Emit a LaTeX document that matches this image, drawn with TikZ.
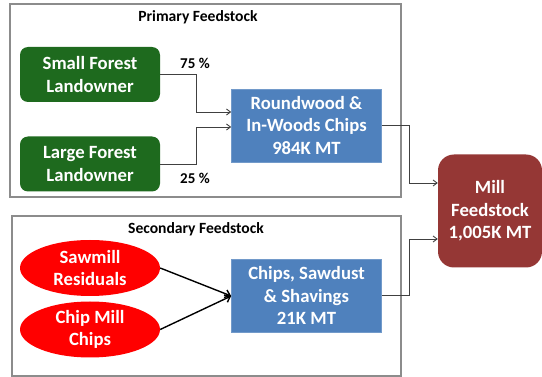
\documentclass[tikz,border=0pt]{standalone}
\usepackage{fontspec}
\setmainfont{Carlito}
\usetikzlibrary{arrows.meta,shapes.geometric,positioning}
\definecolor{fgreen}{HTML}{1E6A1E}
\definecolor{sblue}{HTML}{4F81BD}
\definecolor{mred}{HTML}{953735}
\definecolor{fgray}{HTML}{8C8C8C}
\definecolor{cgray}{HTML}{404040}
\tikzset{
  box/.style={inner sep=0pt, align=center, text=white, font=\fontsize{18.7}{22.5}\selectfont\bfseries},
  greenbox/.style={box, fill=fgreen, rounded corners=8pt, minimum width=140pt, minimum height=55pt},
  bluebox/.style={box, fill=sblue, draw=sblue!80!white, line width=0.6pt, minimum width=150pt, minimum height=73pt},
  millbox/.style={box, fill=mred, rounded corners=16pt, minimum width=104pt, minimum height=113pt},
  redell/.style={box, ellipse, fill=red, minimum width=140pt, minimum height=56pt},
  frame/.style={draw=fgray, line width=1.3pt},
  title/.style={font=\fontsize{15.6}{18}\selectfont\bfseries, inner sep=0pt},
  pct/.style={font=\fontsize{15}{18}\selectfont\bfseries, inner sep=0pt},
  conn/.style={draw=cgray, line width=0.9pt, -{Straight Barb[length=4pt,width=6pt]}},
  bconn/.style={draw=black, line width=1.4pt, -{Straight Barb[length=5pt,width=8pt]}}
}
\begin{document}
\begin{tikzpicture}[x=1pt,y=-1pt]
\useasboundingbox (0,0) rectangle (542,377);
% frames
\draw[frame] (10,4) rectangle (401,197);
\draw[frame] (12,216) rectangle (401,376);
\node[title] (t1) at (198,17) {Primary Feedstock};
\node[title] (t2) at (196,229) {Secondary Feedstock};
% nodes
\node[greenbox] (small) at (90,74.5) {Small Forest\\Landowner};
\node[greenbox] (large) at (90,164) {Large Forest\\Landowner};
\node[bluebox] (rw) at (306.5,125.5) {Roundwood \&\\In-Woods Chips\\984K MT};
\node[bluebox] (chips) at (306.5,295.5) {Chips, Sawdust\\\& Shavings\\21K MT};
\node[millbox] (mill) at (490,211) {Mill\\Feedstock\\1,005K MT};
\node[redell] (saw) at (90,268) {Sawmill\\Residuals};
\node[redell] (cmill) at (90,329.5) {Chip Mill\\Chips};
% labels
\node[pct] (p75) at (195,63.5) {75 \%};
\node[pct] (p25) at (195,178.5) {25 \%};
% connectors
\draw[conn] (small.east) -- ++(36,0) |- ([yshift=13.5pt]rw.west);
\draw[conn] (large.east) -- ++(36,0) |- ([yshift=-1.5pt]rw.west);
\draw[conn] (rw.east) -- ++(28,0) |- ([yshift=28pt]mill.west);
\draw[conn] (chips.east) -- ++(28,0) |- ([yshift=-28pt]mill.west);
\draw[bconn] (saw.east) -- ([yshift=-0.5pt]chips.west);
\draw[bconn] (cmill.east) -- ([yshift=-0.5pt]chips.west);
\end{tikzpicture}
\end{document}
